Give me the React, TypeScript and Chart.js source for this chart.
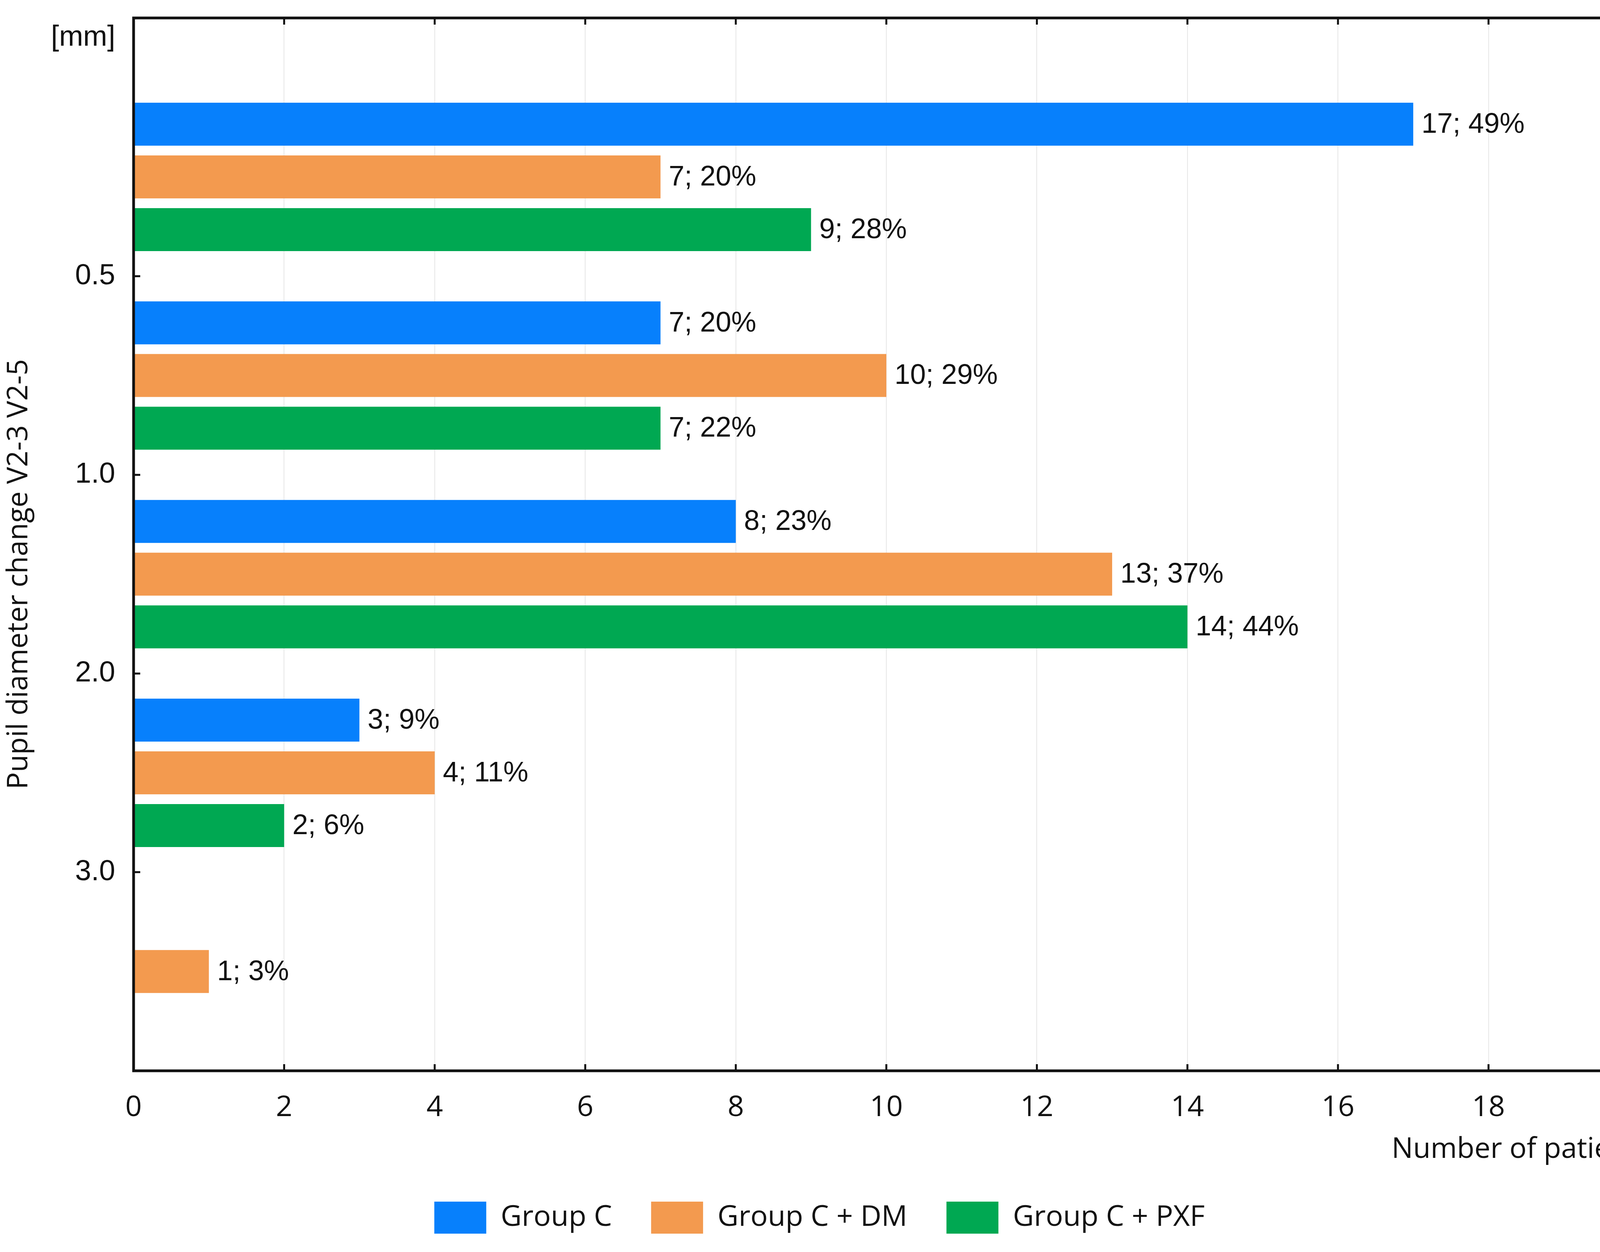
import React, { useEffect, useRef } from 'react';
import { Chart, registerables } from 'chart.js';

Chart.register(...registerables);

// ---- data ----
const binCenters = [0.5, 1.5, 2.5, 3.5, 4.5];
const seriesNames = ['Group C', 'Group C + DM', 'Group C + PXF'];
const groupC = [17, 7, 8, 3, 0];
const groupCPct = [49, 20, 23, 9, 0];
const groupDM = [7, 10, 13, 4, 1];
const groupDMPct = [20, 29, 37, 11, 3];
const groupPXF = [9, 7, 14, 2, 0];
const groupPXFPct = [28, 22, 44, 6, 0];
const seriesColors = ['#0780fc', '#f39a4f', '#00a852'];

const yTickValues = [-0.2, 1, 2, 3, 4];
const yTickLabels = ['[mm]', '0.5', '1.0', '2.0', '3.0'];
const leftTickMarks = [1, 2, 3, 4];
const rightTickMarks = [0, 1, 2, 3, 4];
const xTickMarks = [2, 4, 6, 8, 10, 12, 14, 16, 18];
const yTitle = 'Pupil diameter change V2-3 V2-5';
const xTitle = 'Number of patients';

const W = 4275;
const H = 3206;

export default function App() {
  const ref = useRef<HTMLCanvasElement | null>(null);

  useEffect(() => {
    document.body.style.margin = '0';
    const canvas = ref.current;
    if (!canvas) return;

    const values = [groupC, groupDM, groupPXF];
    const pcts = [groupCPct, groupDMPct, groupPXFPct];

    const datasets = values.map((vals, i) => ({
      label: seriesNames[i],
      data: vals.map((v, j) => ({ x: v, y: binCenters[j] })),
      backgroundColor: seriesColors[i],
      borderWidth: 0,
      categoryPercentage: 0.796,
      barPercentage: 0.815,
    }));

    const framePlugin = {
      id: 'frameTicks',
      afterDatasetsDraw(chart: any) {
        const ctx = chart.ctx;
        ctx.save();
        ctx.font = '72px "Liberation Sans", Arial, sans-serif';
        ctx.fillStyle = '#111111';
        ctx.textAlign = 'left';
        ctx.textBaseline = 'middle';
        chart.data.datasets.forEach((ds: any, di: number) => {
          const meta = chart.getDatasetMeta(di);
          meta.data.forEach((el: any, j: number) => {
            const v = values[di][j];
            if (v > 0) {
              ctx.fillText(`${v}; ${pcts[di][j]}%`, el.x + 21, el.y + 2);
            }
          });
        });
        ctx.restore();
      },
      afterDraw(chart: any) {
        const ctx = chart.ctx;
        const { left, right, top, bottom } = chart.chartArea;
        const xs = chart.scales.x;
        const ys = chart.scales.y;
        ctx.save();
        ctx.strokeStyle = '#111111';
        ctx.lineWidth = 7;
        ctx.lineJoin = 'miter';
        ctx.strokeRect(left, top, right - left, bottom - top);
        ctx.lineWidth = 5;
        const tl = 17;
        ctx.beginPath();
        xTickMarks.forEach((v) => {
          const px = xs.getPixelForValue(v);
          ctx.moveTo(px, top);
          ctx.lineTo(px, top + tl);
          ctx.moveTo(px, bottom);
          ctx.lineTo(px, bottom - tl);
        });
        leftTickMarks.forEach((v) => {
          const py = ys.getPixelForValue(v);
          ctx.moveTo(left, py);
          ctx.lineTo(left + tl, py);
        });
        rightTickMarks.forEach((v) => {
          const py = ys.getPixelForValue(v);
          ctx.moveTo(right, py);
          ctx.lineTo(right - tl, py);
        });
        ctx.stroke();

        // axis titles
        ctx.fillStyle = '#111111';
        ctx.font = '73px "Open Sans", sans-serif';
        ctx.textAlign = 'right';
        ctx.textBaseline = 'middle';
        ctx.fillText(xTitle, right + 32, bottom + 202);

        const yc = (ys.getPixelForValue(0) + ys.getPixelForValue(5)) / 2;
        ctx.translate(49, yc);
        ctx.rotate(-Math.PI / 2);
        ctx.textAlign = 'center';
        ctx.fillText(yTitle, 0, 0);
        ctx.restore();
      },
    };

    const chart = new Chart(canvas, {
      type: 'bar',
      data: { datasets: datasets as any },
      options: {
        indexAxis: 'y',
        responsive: false,
        animation: false,
        devicePixelRatio: 1,
        layout: { padding: { left: 0, right: 79, top: 46, bottom: 37 } },
        scales: {
          x: {
            type: 'linear',
            position: 'bottom',
            offset: false,
            min: 0,
            max: 20,
            ticks: {
              stepSize: 2,
              padding: 51,
              color: '#111111',
              font: { family: '"Open Sans", sans-serif', size: 74 },
            },
            grid: { color: '#e6e6e6', lineWidth: 2, drawTicks: false, offset: false },
            border: { display: false },
            afterFit: (s: any) => {
              s.height = 235;
              s.paddingLeft = 0;
              s.paddingRight = 0;
            },
          },
          y: {
            type: 'linear',
            position: 'left',
            offset: false,
            reverse: true,
            min: -0.3,
            max: 5,
            afterBuildTicks: (s: any) => {
              s.ticks = yTickValues.map((v) => ({ value: v }));
            },
            ticks: {
              autoSkip: false,
              padding: 47,
              color: '#111111',
              font: { family: '"Liberation Sans", Arial, sans-serif', size: 74 },
              callback: (v: any) => {
                const i = yTickValues.indexOf(Number(v));
                return i >= 0 ? yTickLabels[i] : '';
              },
            },
            grid: { display: false, drawTicks: false, offset: false },
            border: { display: false },
            afterFit: (s: any) => {
              s.width = 342;
              s.paddingTop = 0;
              s.paddingBottom = 0;
            },
          },
        },
        plugins: {
          legend: {
            display: true,
            position: 'bottom',
            labels: {
              boxWidth: 133,
              boxHeight: 82,
              padding: 100,
              color: '#111111',
              font: { family: '"Open Sans", sans-serif', size: 74 },
            },
          },
          tooltip: { enabled: false },
        },
      },
      plugins: [framePlugin],
    });

    return () => chart.destroy();
  }, []);

  return (
    <div style={{ width: W, height: H, background: '#ffffff' }}>
      <canvas ref={ref} width={W} height={H} style={{ display: 'block', width: W, height: H }} />
    </div>
  );
}
